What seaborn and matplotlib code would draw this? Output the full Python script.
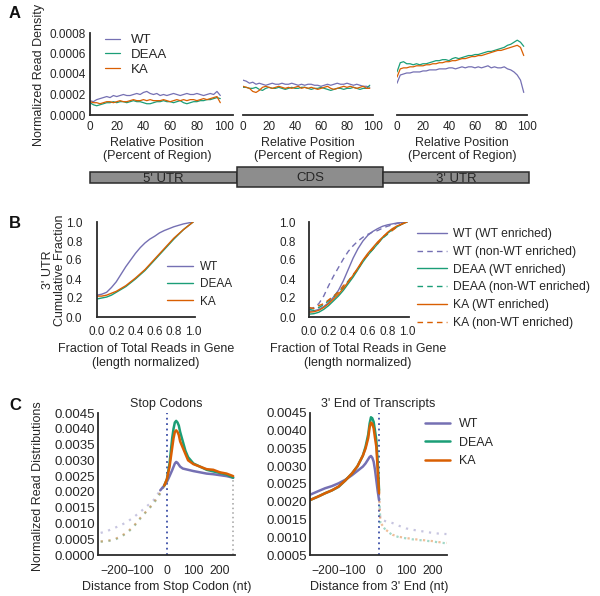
import numpy as np
import pandas as pd
import matplotlib
matplotlib.use("Agg")
import matplotlib.pyplot as plt
import matplotlib.transforms as mtransforms
from matplotlib.patches import Rectangle
from matplotlib.ticker import FormatStrFormatter
import seaborn as sns

# ------------------------------------------------------------------ data
genotypes = ["WT", "DEAA", "KA"]
colors = {"WT": "#7570b3", "DEAA": "#1b9e77", "KA": "#d95f02"}

# Panel A: normalized read density (units of 1e-4) along relative position
relpos = np.arange(0, 100, 2.5)
utr5_wt = [1.4, 1.3, 1.5, 1.6, 1.7, 1.8, 1.7, 1.9, 1.8, 1.9, 2.0, 1.9, 1.9, 2.0, 2.1, 2.0, 2.2, 2.3, 2.1, 2.0,
           2.1, 1.9, 2.0, 1.9, 2.0, 2.1, 2.0, 1.9, 2.0, 2.1, 2.0, 2.0, 2.1, 2.0, 1.9, 2.0, 2.1, 2.0, 2.3, 1.9]
utr5_deaa = [1.2, 1.0, 0.9, 1.0, 1.1, 1.2, 1.2, 1.3, 1.2, 1.3, 1.3, 1.2, 1.3, 1.4, 1.3, 1.3, 1.2, 1.1, 1.1, 1.2,
             1.3, 1.3, 1.4, 1.3, 1.3, 1.2, 1.3, 1.4, 1.2, 1.1, 1.2, 1.3, 1.3, 1.4, 1.4, 1.5, 1.5, 1.6, 1.7, 1.6]
utr5_ka = [1.3, 1.2, 1.2, 1.1, 1.2, 1.3, 1.3, 1.2, 1.3, 1.4, 1.3, 1.3, 1.4, 1.5, 1.4, 1.4, 1.5, 1.4, 1.5, 1.4,
           1.4, 1.4, 1.5, 1.4, 1.3, 1.4, 1.5, 1.4, 1.5, 1.4, 1.5, 1.5, 1.4, 1.5, 1.6, 1.5, 1.6, 1.7, 1.8, 1.2]
cds_wt = [3.4, 3.3, 3.1, 3.2, 3.0, 3.1, 3.0, 2.9, 3.0, 3.1, 3.0, 3.0, 3.1, 3.0, 3.0, 3.1, 3.0, 2.9, 3.0, 2.9,
          3.0, 3.0, 2.9, 2.9, 2.8, 2.9, 3.0, 2.9, 3.0, 3.1, 3.0, 3.0, 3.1, 3.0, 2.9, 3.0, 2.9, 2.8, 2.8, 2.7]
cds_deaa = [2.7, 2.7, 2.6, 2.6, 2.7, 2.5, 2.4, 2.6, 2.7, 2.6, 2.6, 2.7, 2.6, 2.5, 2.6, 2.7, 2.6, 2.6, 2.7, 2.7,
            2.6, 2.5, 2.6, 2.6, 2.7, 2.6, 2.5, 2.4, 2.5, 2.6, 2.6, 2.5, 2.6, 2.6, 2.7, 2.6, 2.5, 2.6, 2.6, 2.9]
cds_ka = [2.8, 2.7, 2.6, 2.3, 2.2, 2.4, 2.7, 2.8, 2.7, 2.6, 2.7, 2.8, 2.7, 2.6, 2.7, 2.6, 2.7, 2.8, 2.6, 2.7,
          2.6, 2.7, 2.6, 2.5, 2.6, 2.7, 2.8, 2.6, 2.5, 2.6, 2.7, 2.8, 2.7, 2.8, 2.7, 2.6, 2.7, 2.8, 2.6, 2.6]
utr3_wt = [3.1, 3.9, 4.0, 4.1, 4.1, 4.2, 4.2, 4.2, 4.3, 4.3, 4.4, 4.4, 4.4, 4.5, 4.5, 4.5, 4.6, 4.6, 4.5, 4.6,
           4.7, 4.6, 4.7, 4.7, 4.6, 4.7, 4.6, 4.7, 4.8, 4.6, 4.7, 4.6, 4.6, 4.7, 4.5, 4.4, 4.2, 3.9, 3.4, 2.2]
utr3_deaa = [4.2, 5.1, 5.2, 5.0, 5.0, 4.9, 5.0, 4.9, 5.0, 5.0, 5.1, 5.2, 5.3, 5.3, 5.4, 5.4, 5.3, 5.5, 5.6, 5.5,
             5.6, 5.7, 5.8, 5.8, 5.9, 5.9, 6.0, 6.1, 6.2, 6.2, 6.3, 6.4, 6.5, 6.6, 6.8, 6.9, 7.1, 7.3, 7.1, 6.7]
utr3_ka = [3.7, 4.5, 4.6, 4.6, 4.7, 4.7, 4.8, 4.8, 4.8, 4.9, 4.9, 5.0, 5.0, 5.1, 5.1, 5.2, 5.2, 5.3, 5.3, 5.4,
           5.5, 5.5, 5.6, 5.7, 5.7, 5.8, 5.8, 5.9, 6.0, 6.1, 6.2, 6.3, 6.3, 6.4, 6.5, 6.6, 6.7, 6.8, 6.6, 5.8]
density_unit = 1e-4
region_names = ["5' UTR", "CDS", "3' UTR"]

# Panel B: 3' UTR cumulative fraction
frac = np.round(np.arange(0, 1.0001, 0.05), 2)
cum_wt = [0.23, 0.24, 0.26, 0.31, 0.37, 0.45, 0.53, 0.60, 0.67, 0.73, 0.78, 0.82, 0.85, 0.885, 0.91, 0.93, 0.95,
          0.965, 0.98, 0.99, 1.0]
cum_deaa = [0.19, 0.20, 0.21, 0.23, 0.26, 0.29, 0.32, 0.36, 0.40, 0.445, 0.49, 0.545, 0.60, 0.655, 0.71, 0.765,
            0.82, 0.87, 0.92, 0.96, 1.0]
cum_ka = [0.22, 0.22, 0.23, 0.25, 0.27, 0.30, 0.33, 0.37, 0.41, 0.455, 0.50, 0.555, 0.61, 0.665, 0.72, 0.775,
          0.83, 0.875, 0.92, 0.96, 1.0]
cum_wt_wtenr = [0.06, 0.065, 0.08, 0.11, 0.15, 0.21, 0.28, 0.38, 0.50, 0.62, 0.72, 0.80, 0.86, 0.90, 0.93, 0.955,
                0.97, 0.98, 0.99, 0.995, 1.0]
cum_wt_nonwt = [0.08, 0.10, 0.14, 0.22, 0.33, 0.43, 0.52, 0.61, 0.69, 0.75, 0.80, 0.84, 0.87, 0.895, 0.91, 0.935,
                0.955, 0.97, 0.985, 0.995, 1.0]
cum_deaa_wtenr = [0.03, 0.035, 0.05, 0.08, 0.12, 0.17, 0.22, 0.28, 0.35, 0.42, 0.50, 0.58, 0.65, 0.71, 0.77, 0.83,
                  0.88, 0.92, 0.95, 0.98, 1.0]
cum_deaa_nonwt = [0.08, 0.07, 0.10, 0.13, 0.17, 0.21, 0.27, 0.31, 0.38, 0.44, 0.51, 0.59, 0.66, 0.71, 0.78, 0.83,
                  0.87, 0.92, 0.95, 0.98, 1.0]
cum_ka_wtenr = [0.05, 0.055, 0.07, 0.10, 0.14, 0.19, 0.24, 0.30, 0.37, 0.44, 0.52, 0.60, 0.67, 0.73, 0.79, 0.84,
                0.89, 0.93, 0.96, 0.98, 1.0]
cum_ka_nonwt = [0.10, 0.09, 0.12, 0.14, 0.18, 0.22, 0.26, 0.33, 0.37, 0.45, 0.50, 0.60, 0.65, 0.72, 0.77, 0.84,
                0.88, 0.91, 0.95, 0.98, 1.0]
enrich_labels = ["WT (WT enriched)", "WT (non-WT enriched)", "DEAA (WT enriched)",
                 "DEAA (non-WT enriched)", "KA (WT enriched)", "KA (non-WT enriched)"]

# Panel C: metagene around stop codons (left) and 3' ends (right)
stop_x_wt = [-25, -20, -10, 0, 10, 20, 30, 35, 40, 50, 60, 80, 100, 125, 150, 175, 200, 225, 250]
stop_wt = [0.00205, 0.0021, 0.0022, 0.00232, 0.0025, 0.00269, 0.0029, 0.00295, 0.00292, 0.0028, 0.00274, 0.0027,
           0.00266, 0.00262, 0.00258, 0.00256, 0.00253, 0.0025, 0.00245]
stop_x_mut = [-10, 0, 10, 20, 25, 30, 35, 40, 45, 50, 60, 70, 80, 100, 125, 150, 175, 200, 225, 250]
stop_deaa = [0.0022, 0.0024, 0.0029, 0.0037, 0.0040, 0.0042, 0.00425, 0.0042, 0.0041, 0.0039, 0.0036, 0.0033,
             0.0031, 0.0029, 0.0028, 0.0027, 0.00265, 0.0026, 0.00255, 0.00245]
stop_ka = [0.0022, 0.0024, 0.0028, 0.0034, 0.0037, 0.0039, 0.00395, 0.0039, 0.0038, 0.0036, 0.0034, 0.0032,
           0.0030, 0.00288, 0.0028, 0.00272, 0.0027, 0.00262, 0.00258, 0.0025]
stop_dot_x = [-250, -225, -200, -175, -150, -125, -100, -75, -50, -25, -10]
stop_dot_wt = [0.0007, 0.00076, 0.00085, 0.00094, 0.00105, 0.0012, 0.00137, 0.00155, 0.00174, 0.00205, 0.0022]
stop_dot_deaa = [0.00042, 0.00044, 0.00047, 0.00057, 0.0007, 0.0009, 0.00116, 0.0014, 0.00163, 0.00195, 0.0022]
stop_dot_ka = [0.00043, 0.00045, 0.00049, 0.00059, 0.00072, 0.00092, 0.00118, 0.00141, 0.00165, 0.00197, 0.0022]

end_x = [-255, -225, -200, -175, -150, -125, -100, -80, -60, -50, -40, -35, -30, -25, -20, -15, -10, -5, 0]
end_wt = [0.0022, 0.0023, 0.00238, 0.00244, 0.00252, 0.00262, 0.00275, 0.00287, 0.00299, 0.00308, 0.0032,
          0.00326, 0.00329, 0.00324, 0.00313, 0.0029, 0.0026, 0.0023, 0.00205]
end_deaa = [0.00205, 0.00215, 0.00224, 0.00232, 0.00242, 0.0026, 0.0028, 0.003, 0.0033, 0.00355, 0.0039, 0.0042,
            0.00438, 0.00435, 0.00425, 0.0040, 0.00373, 0.0031, 0.00233]
end_ka = [0.00205, 0.00215, 0.00224, 0.00232, 0.00243, 0.0026, 0.0028, 0.003, 0.0033, 0.0035, 0.0038, 0.0041,
          0.00423, 0.0042, 0.00407, 0.0038, 0.00355, 0.0029, 0.00224]
end_dot_x = [0, 5, 25, 50, 75, 100, 125, 150, 175, 200, 225, 250]
end_dot_wt = [0.00205, 0.0015, 0.00145, 0.0014, 0.00132, 0.00125, 0.00121, 0.00118, 0.00115, 0.00112, 0.0011,
              0.00109]
end_dot_deaa = [0.00233, 0.0014, 0.0012, 0.00106, 0.001, 0.00097, 0.00094, 0.00092, 0.0009, 0.00088, 0.00085,
                0.00083]
end_dot_ka = [0.00224, 0.00141, 0.00121, 0.00107, 0.00101, 0.00098, 0.00095, 0.00093, 0.00091, 0.00089, 0.00086,
              0.00084]
stop_pos = 0
window_edge = 250
window_edge_level = 0.00245

# ------------------------------------------------------------------ style
sns.set_style("white")
plt.rcParams["font.family"] = ["Liberation Sans", "DejaVu Sans"]
plt.rcParams["text.color"] = "#262626"
plt.rcParams["axes.labelcolor"] = "#262626"
plt.rcParams["xtick.color"] = "#262626"
plt.rcParams["ytick.color"] = "#262626"

W, H = 600, 596
fig = plt.figure(figsize=(W / 100, H / 100), dpi=100)
PX = mtransforms.Affine2D().scale(1 / W, -1 / H).translate(0, 1) + fig.transFigure
SPINE = "#2b2b2b"


def add_ax(l, t, r, b, **kw):
    return fig.add_axes([l / W, 1 - b / H, (r - l) / W, (b - t) / H], **kw)


def style_ax(ax, left=True, fs=8.5, xfs=None, xpad=2.5, ypad=2.5):
    sns.despine(ax=ax, left=not left)
    for s in ("left", "bottom"):
        ax.spines[s].set_color(SPINE)
        ax.spines[s].set_linewidth(1.3)
    ax.tick_params(length=0, labelsize=fs)
    ax.tick_params(axis="x", pad=xpad, labelsize=xfs if xfs else fs)
    ax.tick_params(axis="y", pad=ypad)
    ax.set_facecolor("none")


def place_ylabel(ax, text, x, y, **kw):
    ax.set_ylabel(text, va="center", ha="center", **kw)
    ax.yaxis.set_label_coords(x, y, transform=PX)


def place_xlabel(ax, text, x, y, **kw):
    ax.set_xlabel(text, va="top", ha="center", **kw)
    ax.xaxis.set_label_coords(x, y, transform=PX)


# background axes for gene diagram
bg = fig.add_axes([0, 0, 1, 1], zorder=-1)
bg.set_xlim(0, W)
bg.set_ylim(H, 0)
bg.axis("off")
box_specs = [(90, 172, 237, 183), (237, 167, 383, 187), (383, 172, 529, 183)]
for (l, t, r, b), name in zip(box_specs, region_names):
    bg.add_patch(Rectangle((l, t), r - l, b - t, facecolor="#8d8d8d", edgecolor="#2b2b2b", lw=1.1))
    bg.text((l + r) / 2, (t + b) / 2 + 1.2, name, ha="center", va="center", fontsize=9.5, color="#262626")

# ------------------------------------------------------------------ panel A
regions = [(utr5_wt, utr5_deaa, utr5_ka), (cds_wt, cds_deaa, cds_ka), (utr3_wt, utr3_deaa, utr3_ka)]
a_boxes = [(90, 33, 233, 115, 107), (243, 33, 373, 115, 100), (397, 33, 527, 115, 100)]
a_axes = []
for i, ((l, t, r, b, xmax), series) in enumerate(zip(a_boxes, regions)):
    ax = add_ax(l, t, r, b)
    rows = []
    for g, vals in zip(genotypes, series):
        for p, v in zip(relpos, vals):
            rows.append({"pos": p, "density": v * density_unit, "genotype": g})
    df = pd.DataFrame(rows)
    sns.lineplot(data=df, x="pos", y="density", hue="genotype", hue_order=genotypes, palette=colors,
                 ax=ax, lw=0.9, errorbar=None, legend=(i == 0))
    ax.set_xlim(0, xmax)
    ax.set_ylim(0, 0.0008)
    ax.set_xticks([0, 20, 40, 60, 80, 100])
    ax.set_yticks([0, 0.0002, 0.0004, 0.0006, 0.0008])
    ax.yaxis.set_major_formatter(FormatStrFormatter("%.4f"))
    style_ax(ax, left=(i == 0), xpad=4.6, ypad=2.8)
    if i > 0:
        ax.set_yticklabels([])
    place_xlabel(ax, "Relative Position\n(Percent of Region)", (l + (r - l) * 100 / xmax + l) / 2, 136.5,
                 fontsize=9, linespacing=1.2)
    if i > 0:
        ax.set_ylabel("")
    a_axes.append(ax)

a_axes[0].legend(loc="upper left", bbox_to_anchor=(105, 34), bbox_transform=PX, frameon=False,
                 fontsize=9.5, handlelength=1.1, handletextpad=0.85, labelspacing=0.2,
                 borderpad=0, borderaxespad=0)
place_ylabel(a_axes[0], "Normalized Read Density", 39, 75, fontsize=9)

# ------------------------------------------------------------------ panel B
axb1 = add_ax(97, 222, 195, 317)
dfb = pd.DataFrame({"frac": np.tile(frac, 3),
                    "cum": cum_wt + cum_deaa + cum_ka,
                    "genotype": np.repeat(genotypes, len(frac))})
sns.lineplot(data=dfb, x="frac", y="cum", hue="genotype", hue_order=genotypes, palette=colors,
             ax=axb1, lw=1.0, errorbar=None)
axb1.set_xlim(0, 1.02)
axb1.set_ylim(0, 1.0)
axb1.set_xticks(np.arange(0, 1.01, 0.2))
axb1.set_yticks(np.arange(0, 1.01, 0.2))
axb1.xaxis.set_major_formatter(FormatStrFormatter("%.1f"))
axb1.yaxis.set_major_formatter(FormatStrFormatter("%.1f"))
style_ax(axb1, xpad=6.8, ypad=10.5)
axb1.legend(loc="upper left", bbox_to_anchor=(167, 261), bbox_transform=PX, frameon=False,
            fontsize=8.5, handlelength=2.2, handletextpad=0.6, labelspacing=0.45,
            borderpad=0, borderaxespad=0)
place_ylabel(axb1, "3' UTR\nCumulative Fraction", 54, 270, fontsize=9, linespacing=1.0)
place_xlabel(axb1, "Fraction of Total Reads in Gene\n(length normalized)", 146, 343.5,
             fontsize=9, linespacing=1.15)

axb2 = add_ax(309, 222, 409, 317)
enrich_series = [cum_wt_wtenr, cum_wt_nonwt, cum_deaa_wtenr, cum_deaa_nonwt, cum_ka_wtenr, cum_ka_nonwt]
dfb2 = pd.DataFrame({"frac": np.tile(frac, 6),
                     "cum": sum(enrich_series, []),
                     "group": np.repeat(enrich_labels, len(frac))})
pal2 = {lab: colors[lab.split(" ")[0]] for lab in enrich_labels}
dash2 = {lab: ((4, 3) if "non-WT" in lab else "") for lab in enrich_labels}
sns.lineplot(data=dfb2, x="frac", y="cum", hue="group", style="group", hue_order=enrich_labels,
             style_order=enrich_labels, palette=pal2, dashes=dash2, ax=axb2, lw=1.0, errorbar=None)
axb2.set_xlim(0, 1.02)
axb2.set_ylim(0, 1.0)
axb2.set_xticks(np.arange(0, 1.01, 0.2))
axb2.set_yticks(np.arange(0, 1.01, 0.2))
axb2.xaxis.set_major_formatter(FormatStrFormatter("%.1f"))
axb2.yaxis.set_major_formatter(FormatStrFormatter("%.1f"))
style_ax(axb2, xpad=6.8, ypad=9.5)
axb2.legend(loc="upper left", bbox_to_anchor=(417, 228), bbox_transform=PX, frameon=False,
            fontsize=8.7, handlelength=2.5, handletextpad=0.45, labelspacing=0.48,
            borderpad=0, borderaxespad=0)
axb2.set_ylabel("")
place_xlabel(axb2, "Fraction of Total Reads in Gene\n(length normalized)", 358, 343.5,
             fontsize=9, linespacing=1.15)

# ------------------------------------------------------------------ panel C
DOT = (0, (1, 2.5))
VDOT = (0, (1, 2))

axc1 = add_ax(98, 413, 235, 555)
dfc_dot = pd.DataFrame({"x": stop_dot_x * 3, "y": stop_dot_wt + stop_dot_deaa + stop_dot_ka,
                        "genotype": np.repeat(genotypes, len(stop_dot_x))})
sns.lineplot(data=dfc_dot, x="x", y="y", hue="genotype", hue_order=genotypes, palette=colors, ax=axc1,
             lw=1.6, alpha=0.4, linestyle=DOT, errorbar=None, legend=False)
dfc = pd.DataFrame({"x": stop_x_wt + stop_x_mut + stop_x_mut, "y": stop_wt + stop_deaa + stop_ka,
                    "genotype": ["WT"] * len(stop_x_wt) + ["DEAA"] * len(stop_x_mut) + ["KA"] * len(stop_x_mut)})
sns.lineplot(data=dfc, x="x", y="y", hue="genotype", hue_order=genotypes, palette=colors, ax=axc1,
             lw=1.8, errorbar=None, legend=False)
axc1.axvline(stop_pos, color="#3d4fa8", lw=1.3, ls=VDOT, zorder=0)
axc1.vlines(window_edge, 0, window_edge_level, color="#a0a0a0", lw=1.1, ls=VDOT, zorder=0)
axc1.set_xlim(-260, 257)
axc1.set_ylim(0, 0.0045)
axc1.set_xticks([-200, -100, 0, 100, 200])
axc1.set_yticks(np.arange(0, 0.00451, 0.0005))
axc1.yaxis.set_major_formatter(FormatStrFormatter("%.4f"))
style_ax(axc1, fs=9.5, xfs=8.7, xpad=7, ypad=2.3)
axc1.set_title("Stop Codons", fontsize=9, pad=4)
place_xlabel(axc1, "Distance from Stop Codon (nt)", 167, 581)
axc1.xaxis.label.set_fontsize(9)
place_ylabel(axc1, "Normalized Read Distributions", 38, 486, fontsize=9)

axc2 = add_ax(310, 413, 447, 555)
dfe_dot = pd.DataFrame({"x": end_dot_x * 3, "y": end_dot_wt + end_dot_deaa + end_dot_ka,
                        "genotype": np.repeat(genotypes, len(end_dot_x))})
sns.lineplot(data=dfe_dot, x="x", y="y", hue="genotype", hue_order=genotypes, palette=colors, ax=axc2,
             lw=1.6, alpha=0.4, linestyle=DOT, errorbar=None, legend=False)
dfe = pd.DataFrame({"x": end_x * 3, "y": end_wt + end_deaa + end_ka,
                    "genotype": np.repeat(genotypes, len(end_x))})
sns.lineplot(data=dfe, x="x", y="y", hue="genotype", hue_order=genotypes, palette=colors, ax=axc2,
             lw=1.8, errorbar=None)
axc2.axvline(stop_pos, color="#3d4fa8", lw=1.3, ls=VDOT, zorder=0)
axc2.set_xlim(-256, 252)
axc2.set_ylim(0.0005, 0.0045)
axc2.set_xticks([-200, -100, 0, 100, 200])
axc2.set_yticks(np.arange(0.0005, 0.00451, 0.0005))
axc2.yaxis.set_major_formatter(FormatStrFormatter("%.4f"))
style_ax(axc2, fs=9.5, xfs=8.7, xpad=7, ypad=2.3)
axc2.set_title("3' End of Transcripts", fontsize=9, pad=4)
place_xlabel(axc2, "Distance from 3' End (nt)", 379, 581)
axc2.xaxis.label.set_fontsize(9)
axc2.set_ylabel("")
axc2.legend(loc="upper left", bbox_to_anchor=(425, 418), bbox_transform=PX, frameon=False,
            fontsize=9, handlelength=2.0, handletextpad=0.72, labelspacing=0.53,
            borderpad=0, borderaxespad=0)

# panel letters
for lab, (x, y) in zip(["A", "B", "C"], [(15, 13), (15, 223), (15, 405)]):
    fig.text(x, y, lab, transform=PX, fontsize=12, fontweight="bold", ha="center", va="center",
             color="#111111")

fig.savefig("out.png", dpi=100)
